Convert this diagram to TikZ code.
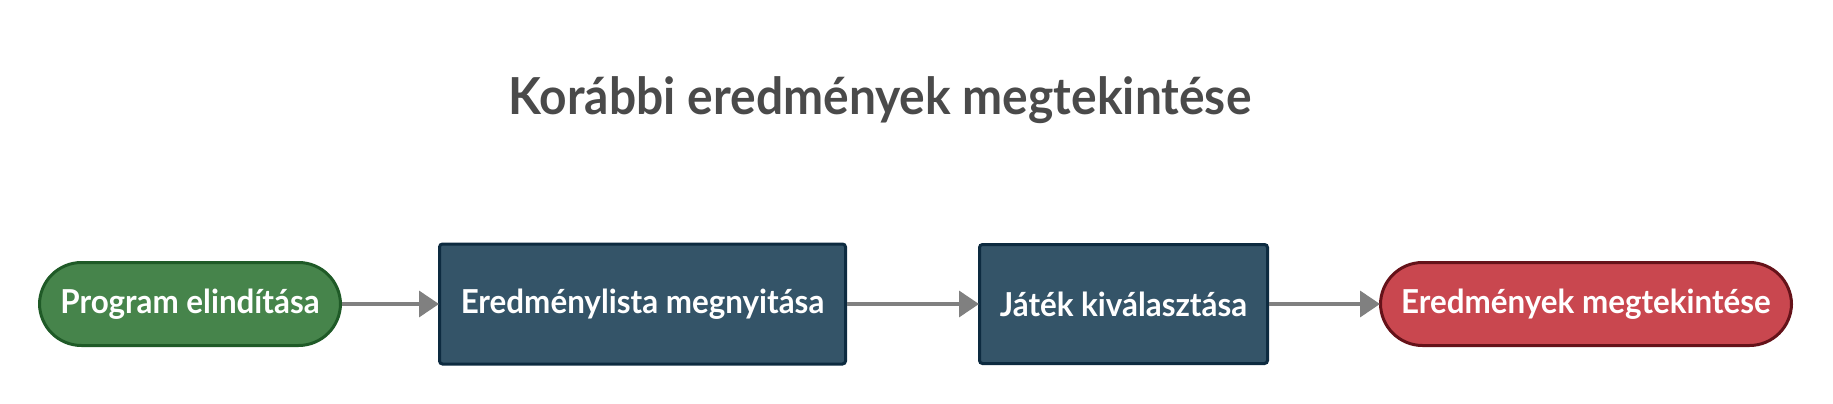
\documentclass[tikz,border=0pt]{standalone}
\usepackage{graphicx}
\usepackage{fontspec}
\setmainfont{Lato}
\usetikzlibrary{arrows.meta}
\definecolor{startfill}{HTML}{46844B}
\definecolor{startdraw}{HTML}{1F5A27}
\definecolor{stepfill}{HTML}{345468}
\definecolor{stepdraw}{HTML}{0D2B40}
\definecolor{endfill}{HTML}{C9474F}
\definecolor{enddraw}{HTML}{651219}
\definecolor{titlecol}{HTML}{4A4A4A}
\definecolor{arrcol}{HTML}{808080}
\newcommand{\nodetxt}[1]{\scalebox{0.95}[1]{#1}}
\tikzset{
  nodetext/.style={text=white, font=\fontsize{33}{38}\selectfont\bfseries, inner sep=0pt, align=center},
  startbox/.style={nodetext, fill=startfill, draw=startdraw, line width=3pt, rounded corners=42pt},
  stepbox/.style={nodetext, fill=stepfill, draw=stepdraw, line width=3pt, rounded corners=3pt},
  endbox/.style={nodetext, fill=endfill, draw=enddraw, line width=3pt, rounded corners=42pt},
  conn/.style={draw=arrcol, line width=3.5pt, -{Triangle[length=20pt,width=26pt]}, shorten >=-1pt},
}
\begin{document}
\begin{tikzpicture}[x=1pt,y=-1pt]
\useasboundingbox (0,0) rectangle (1833,404);
\node[anchor=base, text=titlecol, inner sep=0pt, font=\fontsize{51}{56}\selectfont\bfseries] (title) at (880,114) {\scalebox{0.94}[1]{Korábbi eredmények megtekintése}};
\node[startbox, minimum width=301pt, minimum height=83pt] (s) at (190,304) {\nodetxt{Program elindítása}};
\node[stepbox, minimum width=406pt, minimum height=120pt] (a) at (642.5,304) {\nodetxt{Eredménylista megnyitása}};
\node[stepbox, minimum width=288pt, minimum height=119pt] (b) at (1123.5,304) {\nodetxt{Játék kiválasztása}};
\node[endbox, minimum width=411pt, minimum height=83pt] (e) at (1586,304) {\nodetxt{Eredmények megtekintése}};
\draw[conn] (s) -- (a);
\draw[conn] (a) -- (b);
\draw[conn] (b) -- (e);
\end{tikzpicture}
\end{document}
